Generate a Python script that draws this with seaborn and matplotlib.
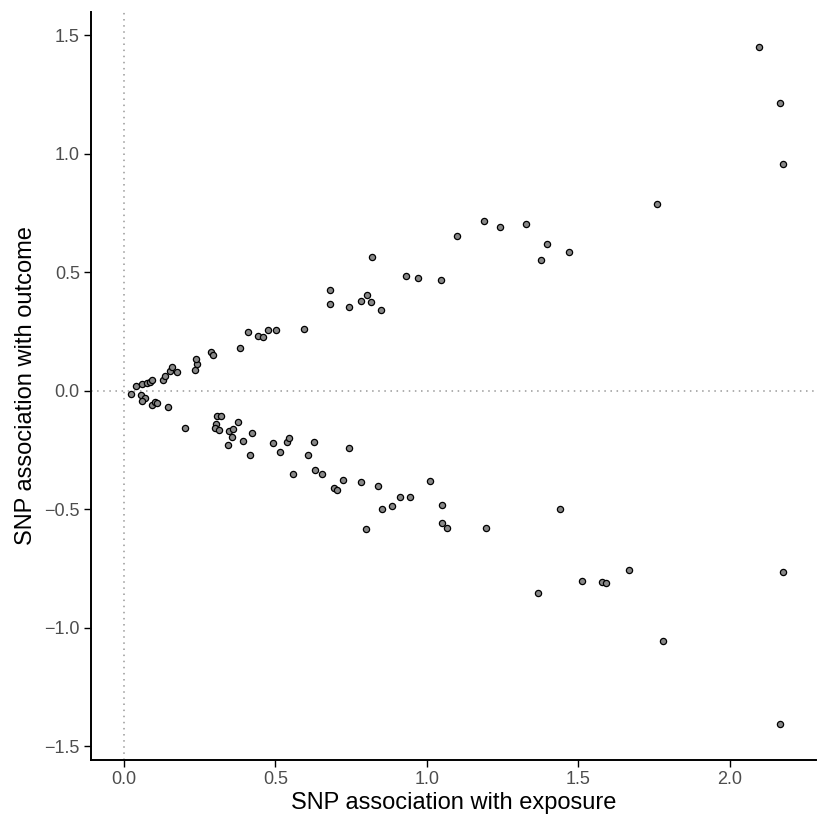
import numpy as np
import pandas as pd
import seaborn as sns
import matplotlib
matplotlib.use("Agg")
import matplotlib.pyplot as plt

# SNP effects
upper_exposure = [0.039, 0.058, 0.076, 0.087, 0.093, 0.130, 0.135, 0.152, 0.158, 0.175,
                  0.235, 0.241, 0.239, 0.288, 0.294, 0.384, 0.411, 0.442, 0.459, 0.475,
                  0.502, 0.594, 0.679, 0.680, 0.742, 0.784, 0.801, 0.814, 0.818, 0.847,
                  0.931, 0.969, 1.047, 1.100, 1.189, 1.242, 1.326, 1.397, 1.376, 1.469,
                  1.761, 2.096, 2.166, 2.175]
upper_outcome = [0.020, 0.027, 0.030, 0.037, 0.043, 0.044, 0.061, 0.082, 0.100, 0.079,
                 0.088, 0.112, 0.134, 0.161, 0.151, 0.178, 0.247, 0.229, 0.224, 0.254,
                 0.255, 0.258, 0.423, 0.366, 0.351, 0.379, 0.404, 0.373, 0.562, 0.340,
                 0.484, 0.475, 0.468, 0.652, 0.714, 0.691, 0.701, 0.617, 0.549, 0.584,
                 0.786, 1.449, 1.214, 0.956]

lower_exposure = [0.023, 0.057, 0.070, 0.060, 0.092, 0.103, 0.109, 0.144, 0.202, 0.307,
                  0.319, 0.303, 0.299, 0.314, 0.346, 0.359, 0.377, 0.357, 0.344, 0.394,
                  0.423, 0.415, 0.491, 0.514, 0.537, 0.545, 0.559, 0.626, 0.608, 0.630,
                  0.652, 0.744, 0.722, 0.694, 0.704, 0.782, 0.838, 0.799, 0.852, 0.884,
                  0.912, 0.945, 1.009, 1.049, 1.049, 1.065, 1.195, 1.438, 1.366, 1.511,
                  1.577, 1.592, 1.668, 1.780, 2.176, 2.165]
lower_outcome = [-0.014, -0.018, -0.033, -0.046, -0.062, -0.047, -0.051, -0.070, -0.159, -0.106,
                 -0.109, -0.143, -0.159, -0.167, -0.172, -0.164, -0.132, -0.196, -0.229, -0.213,
                 -0.181, -0.271, -0.223, -0.258, -0.219, -0.202, -0.352, -0.217, -0.271, -0.335,
                 -0.351, -0.244, -0.379, -0.413, -0.420, -0.386, -0.404, -0.586, -0.501, -0.489,
                 -0.448, -0.448, -0.383, -0.482, -0.560, -0.581, -0.581, -0.499, -0.853, -0.804,
                 -0.808, -0.812, -0.756, -1.058, -0.767, -1.406]

x_ticks = [0.0, 0.5, 1.0, 1.5, 2.0]
y_ticks = [-1.5, -1.0, -0.5, 0.0, 0.5, 1.0, 1.5]

df = pd.DataFrame({
    "exposure": upper_exposure + lower_exposure,
    "outcome": upper_outcome + lower_outcome,
})

sns.set_style("ticks")
plt.rcParams["font.family"] = ["Liberation Sans", "DejaVu Sans"]

fig = plt.figure(figsize=(8.3, 8.3), dpi=100)
ax = fig.add_axes([0.1096, 0.0843, 0.8734, 0.9012])

# reference lines through the origin
ax.axhline(0, color="#999999", linestyle=(0, (1, 3)), linewidth=1.1, zorder=1)
ax.axvline(0, color="#999999", linestyle=(0, (1, 3)), linewidth=1.1, zorder=1)

sns.scatterplot(data=df, x="exposure", y="outcome", ax=ax,
                color="#888888", edgecolor="black", linewidth=0.9, s=20, zorder=3)

ax.set_xlim(-0.109, 2.284)
ax.set_ylim(-1.559, 1.597)
ax.set_xticks(x_ticks)
ax.set_yticks(y_ticks)
ax.set_xticklabels([f"{t:.1f}" for t in x_ticks])
ax.set_yticklabels([f"{t:.1f}".replace("-", "\u2212") for t in y_ticks])

ax.set_xlabel("SNP association with exposure", fontsize=17, color="black", labelpad=3)
ax.set_ylabel("SNP association with outcome", fontsize=17, color="black", labelpad=5)
ax.tick_params(axis="both", labelsize=13, labelcolor="#4d4d4d", color="black",
               length=5, width=1.0, direction="out", pad=3)

for side in ["top", "right"]:
    ax.spines[side].set_visible(False)
for side in ["left", "bottom"]:
    ax.spines[side].set_linewidth(1.4)
    ax.spines[side].set_color("black")

fig.savefig("out.png", dpi=100, facecolor="white")
